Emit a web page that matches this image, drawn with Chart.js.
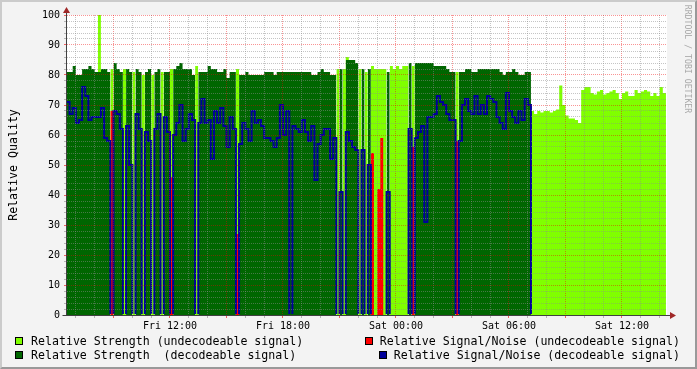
<!DOCTYPE html>
<html><head><meta charset="utf-8">
<script src="https://cdn.jsdelivr.net/npm/chart.js@4/dist/chart.umd.min.js"></script>
<style>
html,body{margin:0;padding:0;background:#f3f3f3;}
#wrap{position:relative;width:697px;height:369px;background:#f3f3f3;overflow:hidden;font-family:'DejaVu Sans Mono',monospace;color:#000;}
#frame{position:absolute;left:0;top:0;width:697px;height:369px;box-sizing:border-box;border-style:solid;border-width:2px;border-color:#cbcbcb #999 #999 #cbcbcb;}
#c{position:absolute;left:0;top:0;}
.ytitle{position:absolute;left:-47.5px;top:158px;width:120px;height:14px;line-height:14px;text-align:center;font-size:11.6px;transform:rotate(-90deg);white-space:pre;}
.credit{position:absolute;left:628px;top:54px;width:120px;height:10px;line-height:10px;text-align:center;font-size:8.2px;color:#a8a8a8;transform:rotate(90deg);white-space:pre;}
.leg{position:absolute;height:14px;line-height:14px;font-size:11.6px;white-space:pre;display:flex;align-items:center;}
.box{display:inline-block;width:6px;height:6px;border:1px solid #000;margin-right:7px;flex:none;}
</style></head>
<body>
<div id="wrap">
<div id="frame"></div>
<canvas id="c" width="697" height="369"></canvas>
<div class="ytitle">Relative Quality</div>
<div class="credit">RRDTOOL / TOBI OETIKER</div>
<div class="leg" style="left:15px;top:334px;"><span class="box" style="background:#80ff00;margin-right:8px"></span>Relative Strength (undecodeable signal)</div>
<div class="leg" style="left:15px;top:348px;"><span class="box" style="background:#006600;margin-right:8px"></span>Relative Strength  (decodeable signal)</div>
<div class="leg" style="right:17px;top:334px;"><span class="box" style="background:#ff0000"></span>Relative Signal/Noise (undecodeable signal)</div>
<div class="leg" style="right:17px;top:348px;"><span class="box" style="background:#000099"></span>Relative Signal/Noise (decodeable signal)</div>
</div>
<script>
const _ = null;
// time axis: hours since Fri 00:00, one sample every 10 minutes starting Fri 06:30
const T0 = 6.5;
const STEP = 1 / 6;
const X_MIN = 6.531;
const X_MAX = 38.39;

// Relative strength while the signal was decodeable (dark green)
const strengthDecoded = [
 81,81,83,80,80,82,82,83,82,81,
 81,82,82,81,_,84,82,81,_,82,
 81,_,82,81,_,81,82,_,81,82,
 _,81,81,_,82,83,84,82,82,82,
 80,_,81,81,81,83,82,82,81,81,
 82,79,81,81,_,80,80,81,80,80,
 80,80,80,81,81,81,80,81,81,81,
 81,81,81,81,81,81,81,81,80,80,
 81,82,81,81,80,80,_,82,_,85,
 85,85,84,_,82,_,82,_,_,_,
 _,_,81,_,_,_,_,_,_,84,
 _,84,84,84,84,84,84,83,83,83,
 83,82,81,81,_,81,81,82,82,81,
 81,82,82,82,82,82,82,82,81,80,
 81,81,82,81,80,80,81,81
];

// Relative strength while the signal was undecodeable (light green)
const strengthUndecoded = [
 _,_,_,_,_,_,_,_,_,_,
 100,_,_,_,82,_,_,_,82,_,
 _,81,_,_,80,_,_,80,_,_,
 81,_,_,82,_,_,_,_,_,_,
 _,83,_,_,_,_,_,_,_,_,
 _,_,_,_,82,_,_,_,_,_,
 _,_,_,_,_,_,_,_,_,_,
 _,_,_,_,_,_,_,_,_,_,
 _,_,_,_,_,_,82,_,82,86,
 _,_,_,82,_,81,_,83,82,82,
 82,82,_,83,82,83,82,83,83,_,
 83,_,_,_,_,_,_,_,_,_,
 _,_,_,_,81,_,_,_,_,_,
 _,_,_,_,_,_,_,_,_,_,
 _,_,_,_,_,_,_,_,68,67,
 68,67.5,68,68,67.5,68,68.5,76.5,70,66.5,
 65.5,65.5,65,64,75,76,76,74,73.5,74.5,
 75,73.5,74,74.5,75,74,72,74,74.5,73,
 73,75,74,74.5,75,74.5,73,74,73,76,
 74
];

// Relative signal/noise, decodeable signal (blue line)
const snrDecoded = [
 71,67,69,64,65,76,73,65,66,66,
 66,69,59,58,0,68,67,62,0,63,
 50,0,67,62,0,61,58,0,62,67,
 0,66,61,0,60,64,70,58,62,67,
 65,0,64,72,64,65,52,68,64,69,
 63,56,66,62,0,57,64,62,58,68,
 64,65,63,59,59,58,56,59,70,60,
 68,0,63,62,61,65,61,58,63,45,
 57,60,62,62,52,59,0,41,0,61,
 58,56,55,0,55,0,50,0,0,0,
 0,0,41,0,0,0,0,0,0,62,
 0,59,61,63,31,66,66,67,73,71,
 70,67,65,65,0,58,70,72,68,67,
 73,67,70,67,73,72,71,66,64,62,
 74,68,66,64,68,65,72,70,0
];

// Relative signal/noise, undecodeable signal (red)
const snrUndecoded = [
 _,_,_,_,_,_,_,_,_,_,
 _,_,_,_,68,_,_,_,_,_,
 _,_,_,_,_,_,_,_,_,_,
 _,_,_,46,_,_,_,_,_,_,
 _,_,_,_,_,_,_,_,_,_,
 _,_,_,_,27,_,_,_,_,_,
 _,_,_,_,_,_,_,_,_,_,
 _,_,_,_,_,_,_,_,_,_,
 _,_,_,_,_,_,_,_,_,_,
 _,_,_,_,_,_,_,54,_,42,
 59,_,_,_,_,_,_,_,_,_,
 56,_,_,_,_,_,_,_,_,_,
 _,_,_,_,58
];

const N = strengthUndecoded.length;

function steps(values) {
  const pts = [];
  for (let i = 0; i < N; i++) {
    const v = values[i] ?? null;
    const t = T0 + i * STEP;
    if (v === null) { pts.push({x: t, y: null}); continue; }
    pts.push({x: t, y: v}, {x: t + STEP, y: v});
  }
  return pts;
}

const GRID = 'rgba(140,140,140,0.5)';
const MGRID = 'rgba(240,0,0,0.42)';
const FONT = "'DejaVu Sans Mono', monospace";

Chart.defaults.font.family = FONT;
Chart.defaults.font.size = 10;
Chart.defaults.color = '#000';

const bgPlugin = {
  id: 'bg',
  beforeDraw(chart) {
    const a = chart.chartArea, ctx = chart.ctx;
    ctx.save();
    ctx.fillStyle = '#ffffff';
    ctx.fillRect(a.left, a.top, a.right - a.left, a.bottom - a.top);
    ctx.restore();
  }
};
const axesPlugin = {
  id: 'axes',
  afterDraw(chart) {
    const a = chart.chartArea, ctx = chart.ctx;
    const x0 = Math.round(a.left) - 0.5, y0 = Math.round(a.bottom) + 0.5;
    ctx.save();
    ctx.strokeStyle = '#404040';
    ctx.lineWidth = 1;
    ctx.beginPath();
    ctx.moveTo(x0, y0); ctx.lineTo(x0, a.top - 6);
    ctx.moveTo(x0 - 4, y0); ctx.lineTo(a.right + 6, y0);
    ctx.stroke();
    ctx.fillStyle = '#a02828';
    ctx.beginPath();
    ctx.moveTo(x0, a.top - 8); ctx.lineTo(x0 - 3.5, a.top - 2); ctx.lineTo(x0 + 3.5, a.top - 2); ctx.closePath();
    ctx.fill();
    ctx.beginPath();
    ctx.moveTo(a.right + 9, y0); ctx.lineTo(a.right + 3, y0 - 3.5); ctx.lineTo(a.right + 3, y0 + 3.5); ctx.closePath();
    ctx.fill();
    ctx.restore();
  }
};

const area = (label, values, color, order) => ({
  label, data: steps(values), order,
  backgroundColor: color, borderColor: 'rgba(0,0,0,0)', borderWidth: 0,
  fill: 'origin', pointRadius: 0, tension: 0
});

new Chart(document.getElementById('c'), {
  type: 'line',
  data: {
    datasets: [
      area('Relative Strength (undecodeable signal)', strengthUndecoded, '#80ff00', 4),
      area('Relative Strength  (decodeable signal)', strengthDecoded, '#006600', 3),
      area('Relative Signal/Noise (undecodeable signal)', snrUndecoded, '#ff0000', 2),
      { label: 'Relative Signal/Noise (decodeable signal)', data: steps(snrDecoded), order: 1,
        borderColor: '#000099', borderWidth: 2, fill: false, pointRadius: 0, tension: 0,
        clip: { left: 0, top: 5, right: 0, bottom: -1 } }
    ]
  },
  options: {
    responsive: false, animation: false, devicePixelRatio: 1,
    layout: { padding: { left: 0, right: 30, top: 15, bottom: 34 } },
    plugins: { legend: { display: false }, tooltip: { enabled: false } },
    scales: {
      x: {
        type: 'linear', min: X_MIN, max: X_MAX,
        afterFit(s) { s.height = 20; },
        border: { display: false, dash: [1, 1] },
        grid: {
          z: 1,
          color: c => (c.tick && c.tick.value % 3 === 0) ? MGRID : GRID,
          tickColor: c => (c.tick && c.tick.value % 3 === 0) ? 'rgba(240,0,0,0.6)' : 'rgba(140,140,140,0.6)',
          tickLength: 3, tickBorderDash: []
        },
        ticks: {
          stepSize: 1, includeBounds: false, autoSkip: false, maxRotation: 0, minRotation: 0, padding: 2,
          callback: v => {
            if (v % 6 !== 0) return '';
            const day = v < 24 ? 'Fri' : 'Sat';
            return day + ' ' + String(v % 24).padStart(2, '0') + ':00';
          }
        }
      },
      y: {
        min: 0, max: 100,
        afterFit(s) { s.width = 67; },
        border: { display: false, dash: [1, 1] },
        grid: {
          z: 1,
          color: c => (c.tick && c.tick.value % 10 === 0) ? MGRID : GRID,
          tickColor: c => (c.tick && c.tick.value % 10 === 0) ? 'rgba(240,0,0,0.6)' : 'rgba(140,140,140,0.6)',
          tickLength: 3, tickBorderDash: []
        },
        ticks: {
          stepSize: 2, autoSkip: false, padding: 4,
          callback: v => (v % 10 === 0 ? String(v) : '')
        }
      }
    }
  },
  plugins: [bgPlugin, axesPlugin]
});
</script>
</body></html>
